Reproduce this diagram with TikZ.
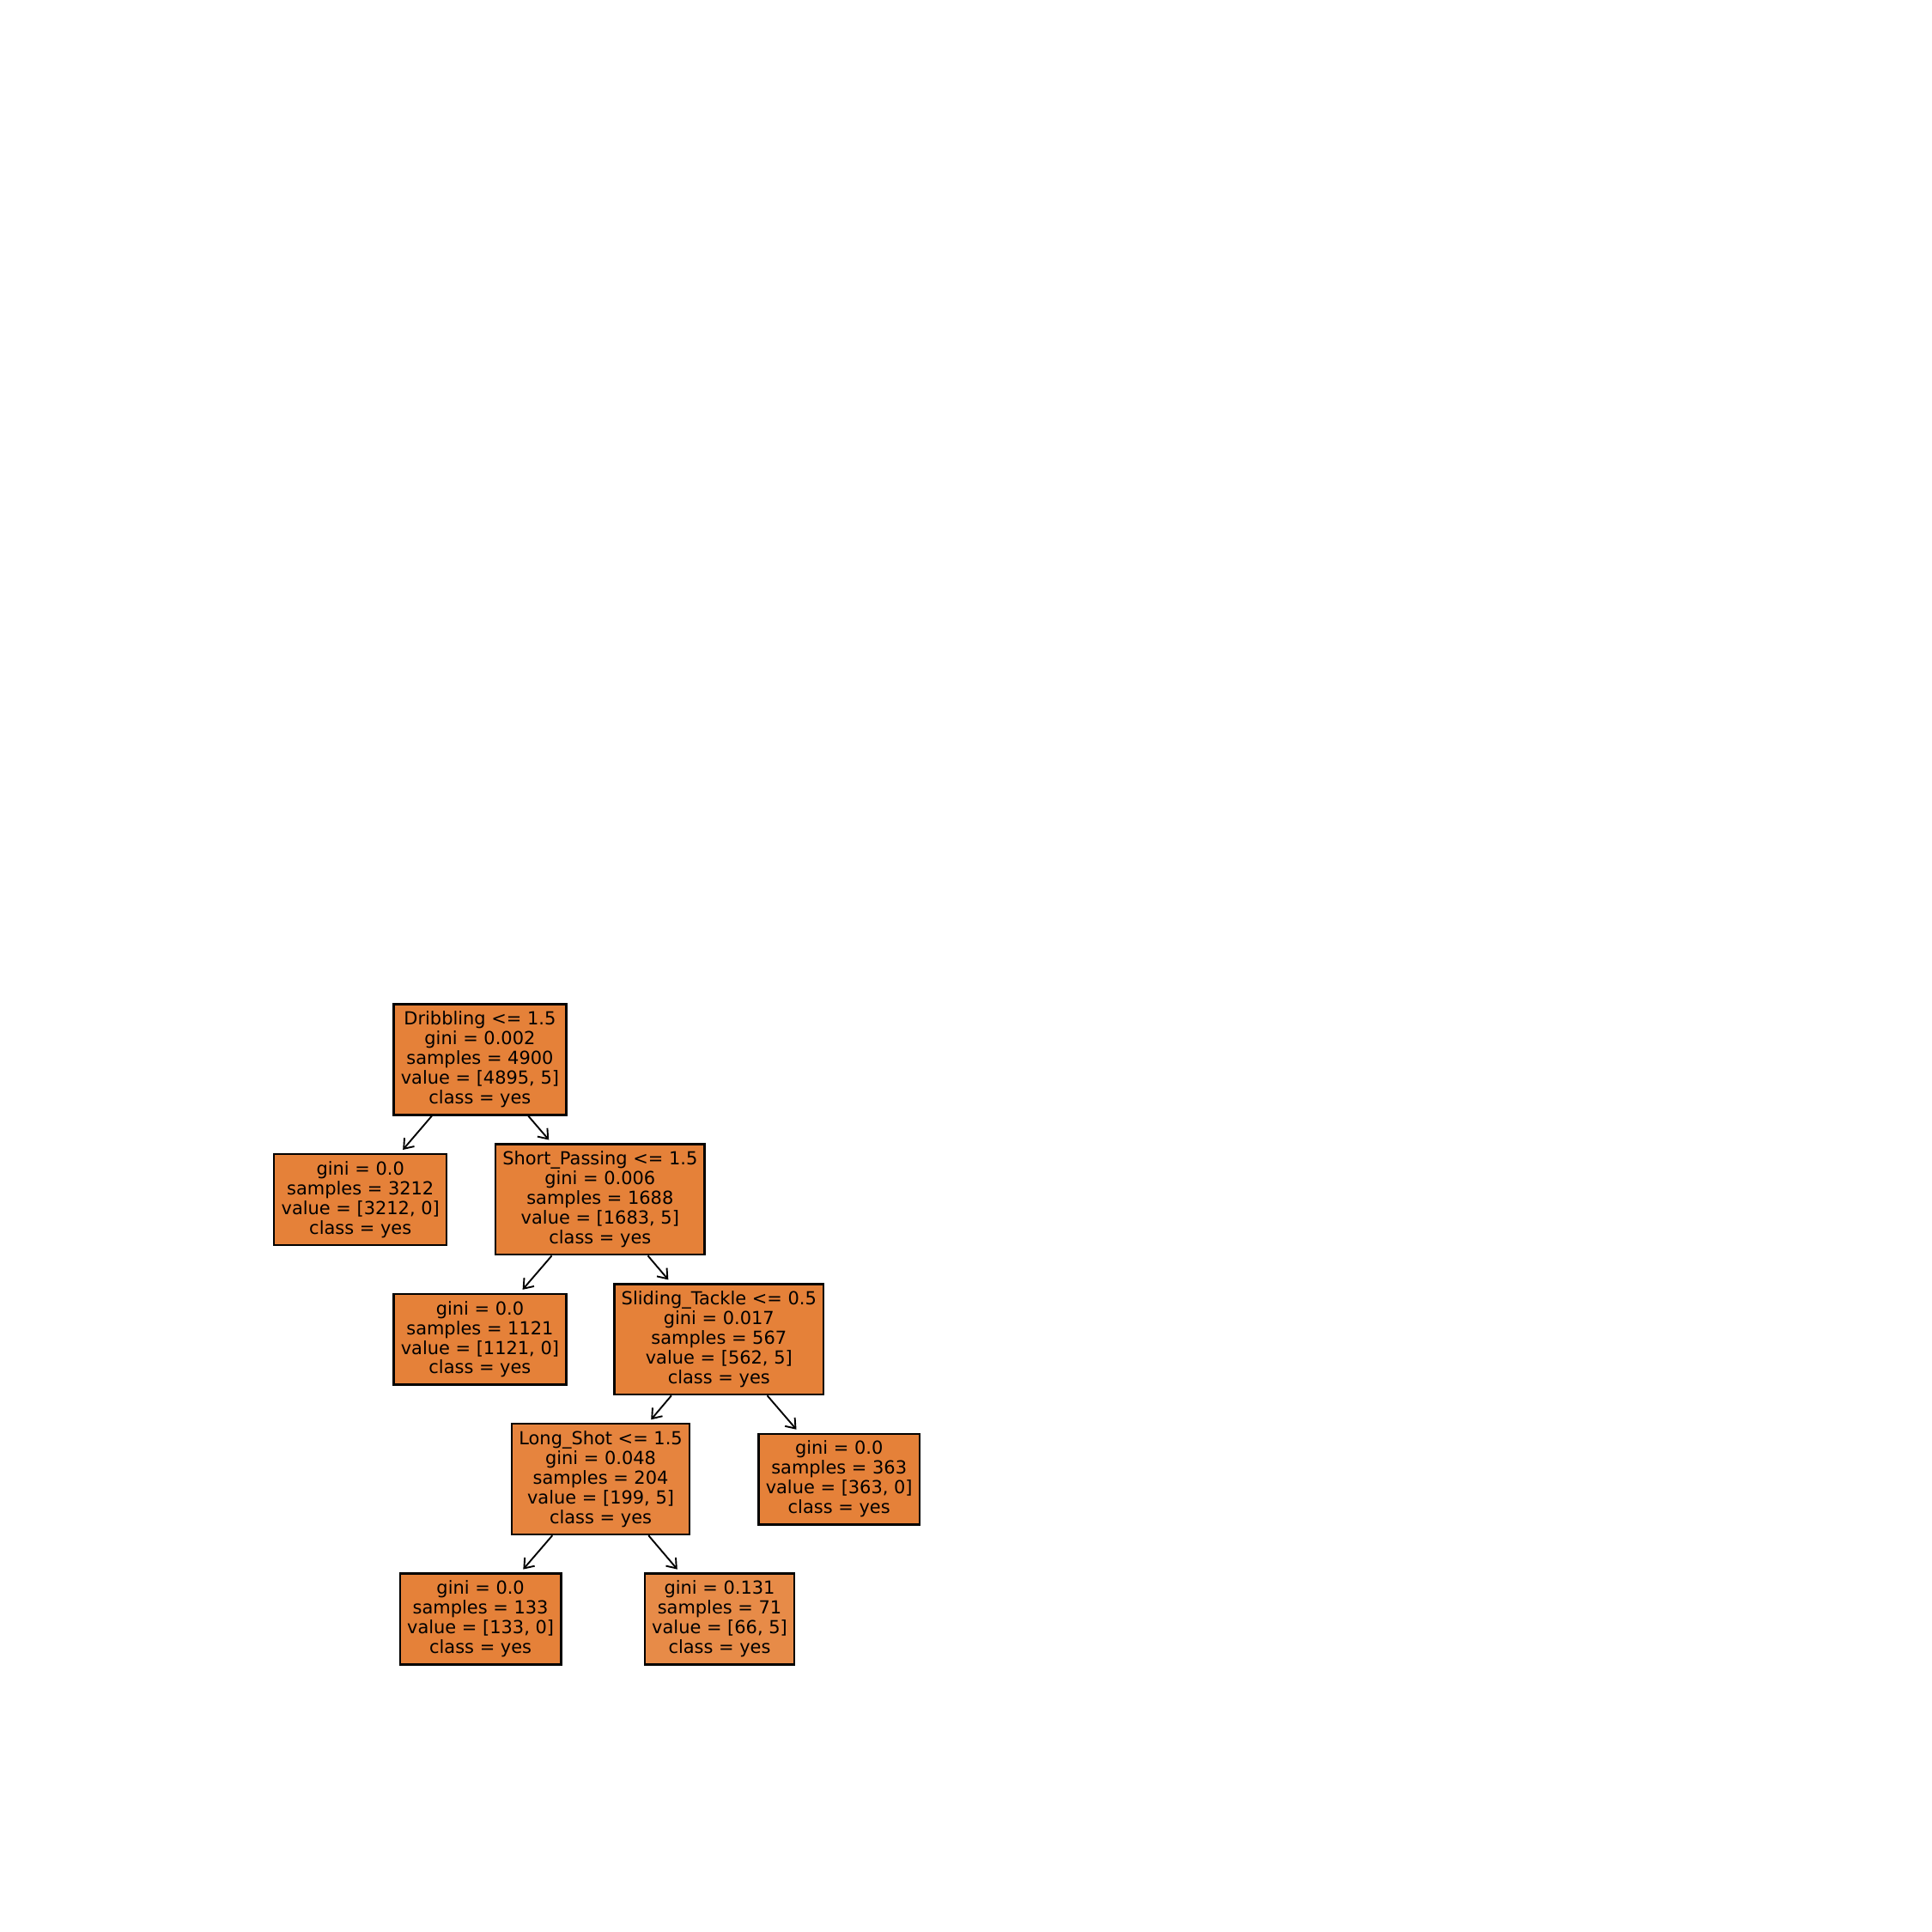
\documentclass[tikz,border=0pt]{standalone}
\usepackage{fontspec}
\setmainfont{DejaVu Sans}
\usetikzlibrary{arrows.meta}

\definecolor{purenode}{HTML}{E58139}
\definecolor{mixnode}{HTML}{E6843E}
\definecolor{lightnode}{HTML}{E78B48}

\begin{document}
\begin{tikzpicture}[
        box/.style={draw, line width=0.95pt, fill=purenode, inner sep=3.3pt,
            align=center, font=\fontsize{8.3}{9.1}\selectfont},
        edge/.style={-{Straight Barb[length=4pt,width=6pt]}, line width=0.75pt, shorten >=2pt}]
        \useasboundingbox (0,0) rectangle (31.36,31.36);

        % Split nodes
        \node[box] (dribbling) at (7.79,14.16)
            {Dribbling <= 1.5\\gini = 0.002\\samples = 4900\\value = [4895, 5]\\class = yes};
        \node[box] (shortpass) at (9.74,11.89)
            {Short\_Passing <= 1.5\\gini = 0.006\\samples = 1688\\value = [1683, 5]\\class = yes};
        \node[box] (sliding) at (11.67,9.62)
            {Sliding\_Tackle <= 0.5\\gini = 0.017\\samples = 567\\value = [562, 5]\\class = yes};
        \node[box, fill=mixnode] (longshot) at (9.75,7.35)
            {Long\_Shot <= 1.5\\gini = 0.048\\samples = 204\\value = [199, 5]\\class = yes};

        % Leaves
        \node[box] (leafA) at (5.85,11.89)
            {gini = 0.0\\samples = 3212\\value = [3212, 0]\\class = yes};
        \node[box] (leafB) at (7.79,9.62)
            {gini = 0.0\\samples = 1121\\value = [1121, 0]\\class = yes};
        \node[box] (leafC) at (13.62,7.35)
            {gini = 0.0\\samples = 363\\value = [363, 0]\\class = yes};
        \node[box] (leafD) at (7.80,5.08)
            {gini = 0.0\\samples = 133\\value = [133, 0]\\class = yes};
        \node[box, fill=lightnode] (leafE) at (11.68,5.08)
            {gini = 0.131\\samples = 71\\value = [66, 5]\\class = yes};

        % Edges
        \draw[edge] (dribbling) -- (leafA);
        \draw[edge] (dribbling) -- (shortpass);
        \draw[edge] (shortpass) -- (leafB);
        \draw[edge] (shortpass) -- (sliding);
        \draw[edge] (sliding) -- (longshot);
        \draw[edge] (sliding) -- (leafC);
        \draw[edge] (longshot) -- (leafD);
        \draw[edge] (longshot) -- (leafE);
\end{tikzpicture}
\end{document}
